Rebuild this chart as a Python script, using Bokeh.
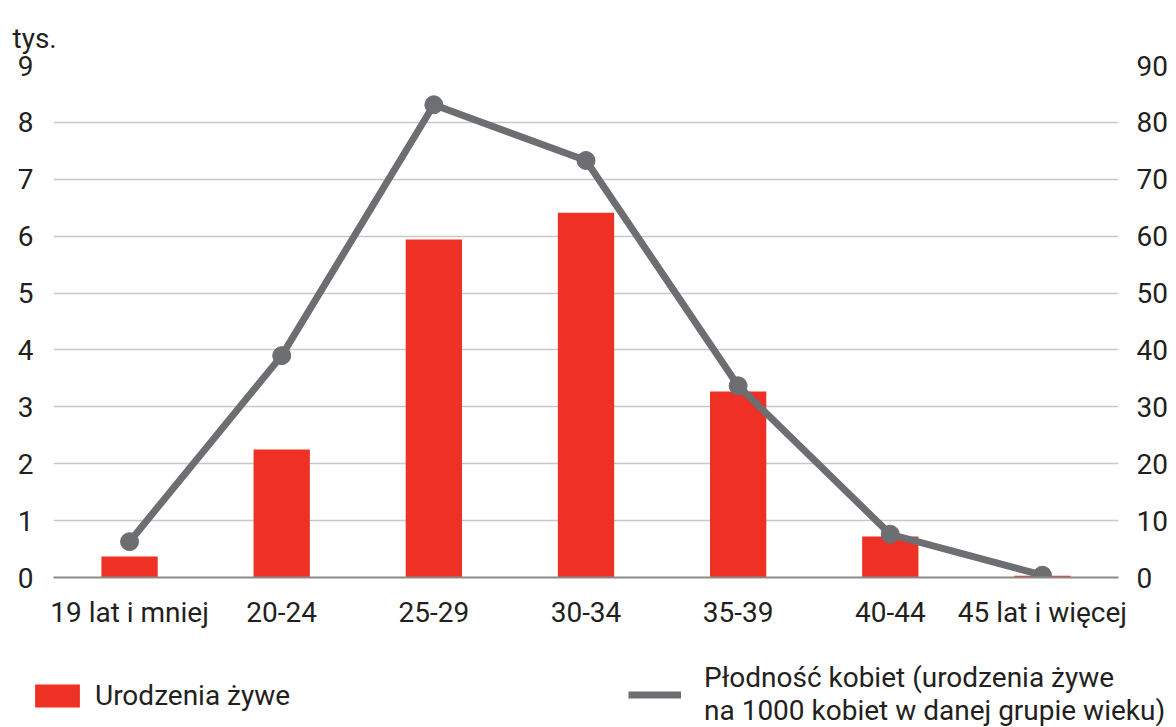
from bokeh.plotting import figure
from bokeh.models import LinearAxis, Range1d, FactorRange, Legend, LegendItem
from bokeh.embed import file_html
from bokeh.resources import INLINE

categories = ["19 lat i mniej", "20-24", "25-29", "30-34", "35-39", "40-44", "45 lat i więcej"]
births = [0.37, 2.25, 5.94, 6.41, 3.27, 0.72, 0.03]          # tys.
fertility = [6.3, 39.0, 83.1, 73.3, 33.7, 7.6, 0.4]          # per 1000 women
left_ticks = [0, 1, 2, 3, 4, 5, 6, 7, 8, 9]
right_ticks = [0, 10, 20, 30, 40, 50, 60, 70, 80, 90]
label_births = "Urodzenia żywe"
label_fert = "Płodność kobiet (urodzenia żywe\nna 1000 kobiet w danej grupie wieku)"

RED = "#ee3124"
GRAY = "#6d6e71"
FONT = "Roboto"
FS = "28px"
TXT = "#231f20"

p = figure(frame_width=1065, frame_height=512, x_range=FactorRange(*categories, range_padding=0),
           y_range=Range1d(0, 9), output_backend="svg", toolbar_location=None,
           min_border_left=53, min_border_right=50, min_border_top=65, min_border_bottom=73,
           title="tys.")
p.extra_y_ranges = {"right": Range1d(0, 90)}
p.outline_line_color = None
p.background_fill_color = "white"

p.title.text_font = FONT
p.title.text_font_size = FS
p.title.text_font_style = "normal"
p.title.text_color = TXT
p.title.align = "left"
p.title.offset = -41
p.title.standoff = 22

p.vbar(x=categories, top=births, width=0.37, color=RED, line_color=None)
p.line(x=categories, y=fertility, y_range_name="right", line_color=GRAY, line_width=7)
p.scatter(x=categories, y=fertility, y_range_name="right", size=18, color=GRAY)

p.xgrid.grid_line_color = None
p.ygrid.grid_line_color = "#c8c8c8"
p.ygrid.grid_line_width = 1.5
p.ygrid.ticker = left_ticks

ax = p.yaxis[0]
ax.ticker = left_ticks
ax.axis_line_color = None
ax.major_tick_line_color = None
ax.minor_tick_line_color = None
ax.major_label_text_font = FONT
ax.major_label_text_font_size = FS
ax.major_label_text_color = TXT
ax.major_label_standoff = 14

rax = LinearAxis(y_range_name="right", ticker=right_ticks)
rax.axis_line_color = None
rax.major_tick_line_color = None
rax.minor_tick_line_color = None
rax.major_label_text_font = FONT
rax.major_label_text_font_size = FS
rax.major_label_text_color = TXT
rax.major_label_standoff = 12
p.add_layout(rax, "right")

xa = p.xaxis[0]
xa.axis_line_color = "#8a8a8a"
xa.axis_line_width = 2
xa.major_tick_line_color = None
xa.minor_tick_line_color = None
xa.major_label_text_font = FONT
xa.major_label_text_font_size = FS
xa.major_label_text_color = TXT
xa.major_label_standoff = 12

# legend strip below the chart (hidden proxy renderers carry the legend glyphs)
q = figure(width=1170, height=77, x_range=FactorRange(*categories), y_range=Range1d(0, 100),
           output_backend="svg", toolbar_location=None,
           x_axis_location=None, y_axis_location=None,
           min_border_left=0, min_border_right=0, min_border_top=0, min_border_bottom=0)
q.grid.visible = False
q.outline_line_color = None
lb = q.vbar(x=categories, top=births, width=0.37, color=RED, line_color=None, visible=False)
ll = q.line(x=categories, y=fertility, line_color=GRAY, line_width=7, visible=False)

def mk_legend(item, loc, gw, gh, standoff):
    return Legend(items=[item], location=loc, orientation="horizontal",
                  glyph_width=gw, glyph_height=gh, label_standoff=standoff,
                  label_text_font=FONT, label_text_font_size=FS, label_text_color=TXT,
                  label_text_line_height=1.05, inactive_fill_alpha=0,
                  padding=0, margin=0, border_line_color=None, background_fill_alpha=0,
                  label_height=23)

q.add_layout(mk_legend(LegendItem(label=label_births, renderers=[lb]), (29, 15), 56, 29, 10))
q.add_layout(mk_legend(LegendItem(label=label_fert, renderers=[ll]), (628, 0), 53, 23, 23))

open("out.html", "w").write(file_html([p, q], INLINE))
